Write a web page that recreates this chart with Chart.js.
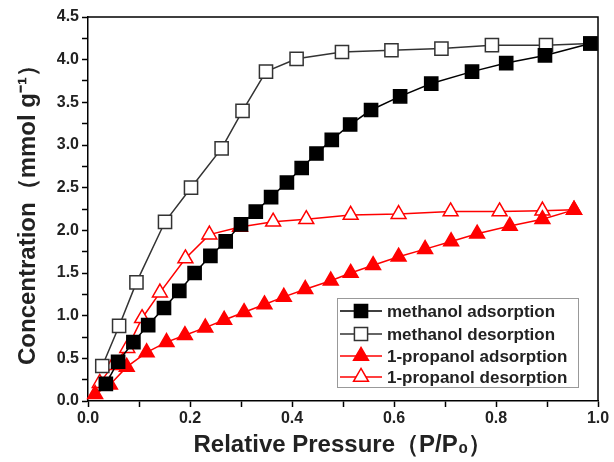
<!DOCTYPE html>
<html>
<head>
<meta charset="utf-8">
<script src="https://cdn.jsdelivr.net/npm/chart.js@4.4.0/dist/chart.umd.min.js"></script>
<style>
  html, body { margin: 0; padding: 0; background: #fff; }
  #wrap { width: 614px; height: 462px; }
</style>
</head>
<body>
<div id="wrap"><canvas id="myChart" width="614" height="462"></canvas></div>
<script>
// valori
var methanolAdsX = [0.035, 0.059, 0.089, 0.118, 0.149, 0.179, 0.209, 0.240, 0.270, 0.300, 0.329, 0.359, 0.390, 0.419, 0.448, 0.478, 0.514, 0.555, 0.612, 0.673, 0.753, 0.820, 0.896, 0.985];
var methanolAdsY = [0.20, 0.46, 0.69, 0.89, 1.09, 1.29, 1.50, 1.70, 1.87, 2.07, 2.22, 2.39, 2.56, 2.73, 2.90, 3.06, 3.24, 3.41, 3.57, 3.72, 3.86, 3.96, 4.05, 4.19];

var methanolDesX = [0.985, 0.898, 0.792, 0.693, 0.595, 0.498, 0.409, 0.349, 0.303, 0.262, 0.202, 0.151, 0.095, 0.061, 0.028];
var methanolDesY = [4.19, 4.17, 4.17, 4.13, 4.11, 4.09, 4.01, 3.86, 3.40, 2.96, 2.50, 2.10, 1.39, 0.88, 0.41];

var propanolAdsX = [0.014, 0.043, 0.076, 0.115, 0.154, 0.190, 0.230, 0.267, 0.306, 0.346, 0.384, 0.426, 0.476, 0.515, 0.559, 0.609, 0.661, 0.712, 0.763, 0.827, 0.891, 0.953];
var propanolAdsY = [0.08, 0.19, 0.40, 0.57, 0.69, 0.77, 0.86, 0.95, 1.04, 1.13, 1.22, 1.31, 1.41, 1.50, 1.59, 1.69, 1.78, 1.87, 1.96, 2.05, 2.13, 2.24];

var propanolDesX = [0.953, 0.891, 0.807, 0.711, 0.609, 0.515, 0.428, 0.363, 0.298, 0.238, 0.191, 0.141, 0.106, 0.077, 0.049, 0.023];
var propanolDesY = [2.24, 2.23, 2.22, 2.22, 2.19, 2.18, 2.13, 2.10, 2.04, 1.95, 1.67, 1.27, 0.97, 0.62, 0.42, 0.21];

var seriesLabels = ['methanol adsorption', 'methanol desorption', '1-propanol adsorption', '1-propanol desorption'];

function pts(xs, ys) {
    return xs.map(function (x, i) { return { x: x, y: ys[i] }; });
}

var FONT = '"Liberation Sans", Arial, sans-serif';

// rama + legenda desenate manual
var framePlugin = {
    id: 'frame',
    afterDatasetsDraw: function (chart) {
        var c = chart.ctx, a = chart.chartArea;
        c.save();
        c.strokeStyle = '#000';
        c.lineWidth = 1.5;
        c.beginPath();
        c.moveTo(a.left, a.top);
        c.lineTo(a.right, a.top);
        c.lineTo(a.right, a.bottom);
        c.stroke();

        // legenda
        var bx = 337, by = 298, bw = 241, bh = 89;
        c.fillStyle = '#fff';
        c.fillRect(bx, by, bw, bh);
        c.strokeStyle = '#999';
        c.lineWidth = 1;
        c.strokeRect(bx + 0.5, by + 0.5, bw, bh);
        var rows = [311, 334, 356, 377];
        chart.data.datasets.forEach(function (ds, i) {
            var y = rows[i];
            c.strokeStyle = ds.borderColor;
            c.lineWidth = 1.5;
            c.beginPath();
            c.moveTo(340, y);
            c.lineTo(382, y);
            c.stroke();
            c.fillStyle = ds.pointBackgroundColor;
            c.strokeStyle = ds.pointBorderColor;
            c.lineWidth = ds.pointBorderWidth;
            Chart.helpers.drawPoint(c, {
                pointStyle: ds.pointStyle,
                radius: ds.pointRadius,
                borderWidth: ds.pointBorderWidth
            }, 361, y);
            c.fillStyle = '#222';
            c.font = 'bold 17px ' + FONT;
            c.textAlign = 'left';
            c.textBaseline = 'middle';
            c.fillText(ds.label, 387, y + 1);
        });
        c.restore();
    }
};

function mkSet(label, xs, ys, color, fill, style, r) {
    return {
        label: label,
        data: pts(xs, ys),
        showLine: true,
        borderColor: color,
        borderWidth: 1.5,
        pointStyle: style,
        pointRadius: r,
        pointHoverRadius: r,
        pointBackgroundColor: fill,
        pointBorderColor: color,
        pointBorderWidth: 1.5,
        clip: false
    };
}

var ctx = document.getElementById('myChart').getContext('2d');

var myChart = new Chart(ctx, {
    type: 'scatter',
    data: {
        datasets: [
            mkSet(seriesLabels[0], methanolAdsX, methanolAdsY, '#000', '#000', 'rect', 9.3),
            mkSet(seriesLabels[1], methanolDesX, methanolDesY, '#333', '#fff', 'rect', 9.3),
            mkSet(seriesLabels[2], propanolAdsX, propanolAdsY, '#ff0000', '#ff0000', 'triangle', 8.6),
            mkSet(seriesLabels[3], propanolDesX, propanolDesY, '#ff0000', '#fff', 'triangle', 8.6)
        ]
    },
    options: {
        responsive: false,
        animation: false,
        layout: { padding: { top: 17, right: 16, left: 0, bottom: 0 } },
        plugins: {
            legend: { display: false },
            tooltip: { enabled: false }
        },
        scales: {
            x: {
                type: 'linear',
                min: 0,
                max: 1,
                afterFit: function (s) { s.height = 61; },
                grid: { drawOnChartArea: false, tickLength: 6, color: '#000', tickWidth: 1.5 },
                border: { color: '#000', width: 1.5 },
                ticks: {
                    stepSize: 0.1,
                    autoSkip: false,
                    maxRotation: 0,
                    padding: 2,
                    color: '#222',
                    font: { family: FONT, size: 16, weight: 'bold' },
                    callback: function (v) {
                        var k = Math.round(v * 10);
                        return k % 2 === 0 ? (k / 10).toFixed(1) : '';
                    }
                },
                title: {
                    display: true,
                    text: 'Relative Pressure（P/P₀）',
                    color: '#222',
                    padding: { top: 0, bottom: 2 },
                    font: { family: FONT, size: 24, weight: 'bold' }
                }
            },
            y: {
                min: 0,
                max: 4.5,
                afterFit: function (s) { s.width = 88; },
                grid: { drawOnChartArea: false, tickLength: 6, color: '#000', tickWidth: 1.5 },
                border: { color: '#000', width: 1.5 },
                ticks: {
                    stepSize: 0.25,
                    autoSkip: false,
                    padding: 3,
                    color: '#222',
                    font: { family: FONT, size: 16, weight: 'bold' },
                    callback: function (v) {
                        var k = Math.round(v * 4);
                        return k % 2 === 0 ? (k / 4).toFixed(1) : '';
                    }
                },
                title: {
                    display: true,
                    text: 'Concentration（mmol g⁻¹）',
                    color: '#222',
                    padding: { top: 14, bottom: 0 },
                    font: { family: FONT, size: 24, weight: 'bold' }
                }
            }
        }
    },
    plugins: [framePlugin]
});
</script>
</body>
</html>
